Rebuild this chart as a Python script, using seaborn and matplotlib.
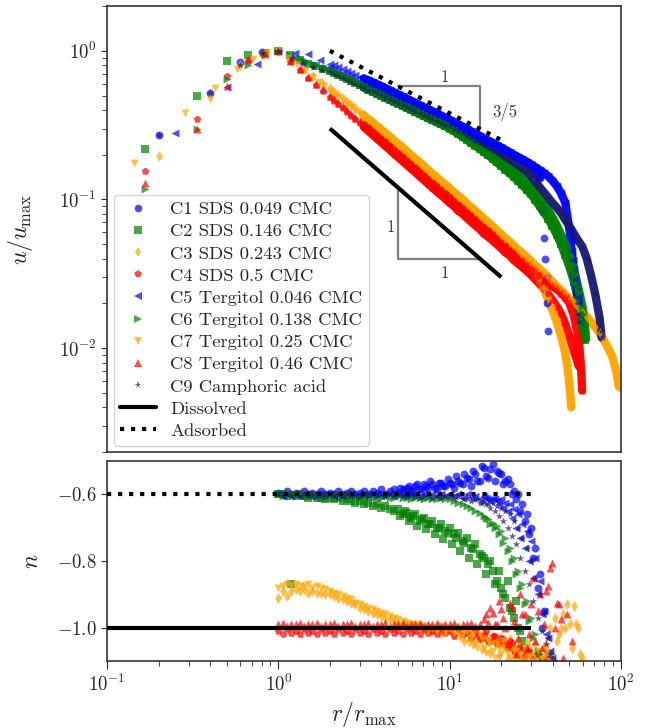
import matplotlib
matplotlib.use("Agg")
import matplotlib.pyplot as plt
from matplotlib.lines import Line2D
import numpy as np
import pandas as pd
import seaborn as sns

# ---------------------------------------------------------------------------
# Data
# ---------------------------------------------------------------------------
LABELS = ["C1 SDS 0.049 CMC", "C2 SDS 0.146 CMC", "C3 SDS 0.243 CMC",
          "C4 SDS 0.5 CMC", "C5 Tergitol 0.046 CMC", "C6 Tergitol 0.138 CMC",
          "C7 Tergitol 0.25 CMC", "C8 Tergitol 0.46 CMC", "C9 Camphoric acid"]
COLORS = ["blue", "green", "orange", "red", "blue", "green", "orange", "red",
          "midnightblue"]
MARKERS = ["o", "s", "d", "p", "<", ">", "v", "^", "*"]

# radial positions (r / r_max) of the sampled profile beyond r = 2
R_TOP = [2.00, 2.11, 2.24, 2.37, 2.51, 2.66, 2.82, 2.99, 3.16, 3.35, 3.55, 3.76,
         3.98, 4.22, 4.47, 4.73, 5.01, 5.31, 5.62, 5.96, 6.31, 6.68, 7.08, 7.50,
         7.94, 8.41, 8.91, 9.44, 10.0, 10.6, 11.2, 11.9, 12.6, 13.3, 14.1, 15.0,
         15.8, 16.8, 17.8, 18.8, 20.0, 21.1, 22.4, 23.7, 25.1, 26.6, 28.2, 29.9,
         31.6, 33.5, 35.5, 37.6, 39.8, 42.2, 44.7, 47.3, 50.1, 53.1, 56.2, 59.6,
         63.1, 66.8, 70.8, 75.0, 79.4, 84.1, 89.1, 94.4]

# inner part of each profile (r < 2)
HEAD_R = {
    "C1": [0.2, 0.4, 0.6, 0.8, 1.0, 1.2, 1.4, 1.6, 1.8],
    "C2": [0.167, 0.333, 0.5, 0.667, 0.833, 1.0, 1.167, 1.333, 1.5, 1.667, 1.833],
    "C3": [0.2, 0.4, 0.6, 0.8, 1.0, 1.2, 1.4, 1.6, 1.8],
    "C4": [0.167, 0.333, 0.5, 0.667, 0.833, 1.0, 1.167, 1.333, 1.5, 1.667, 1.833],
    "C5": [0.25, 0.5, 0.75, 1.0, 1.25, 1.5, 1.75],
    "C6": [0.167, 0.333, 0.5, 0.667, 0.833, 1.0, 1.167, 1.333, 1.5, 1.667, 1.833],
    "C7": [0.143, 0.286, 0.429, 0.571, 0.714, 0.857, 1.0, 1.143, 1.286, 1.429,
           1.571, 1.714, 1.857],
    "C8": [0.167, 0.333, 0.5, 0.667, 0.833, 1.0, 1.167, 1.333, 1.5, 1.667, 1.833],
    "C9": [0.2, 0.4, 0.6, 0.8, 1.0, 1.2, 1.4, 1.6, 1.8],
}
HEAD_U = {
    "C1": [0.27, 0.52, 0.84, 0.98, 1.0, 0.89, 0.84, 0.80, 0.77],
    "C2": [0.22, 0.50, 0.85, 0.93, 0.97, 1.0, 0.93, 0.87, 0.82, 0.79, 0.76],
    "C3": [0.195, 0.49, 0.80, 0.93, 1.0, 0.86, 0.76, 0.68, 0.61],
    "C4": [0.156, 0.345, 0.675, 0.86, 0.96, 1.0, 0.85, 0.74, 0.66, 0.59, 0.54],
    "C5": [0.28, 0.57, 0.81, 1.0, 0.96, 0.95, 0.87],
    "C6": [0.118, 0.30, 0.65, 0.80, 0.95, 1.0, 0.94, 0.89, 0.84, 0.80, 0.77],
    "C7": [0.175, 0.38, 0.56, 0.76, 0.88, 0.97, 1.0, 0.89, 0.80, 0.73, 0.67,
           0.62, 0.58],
    "C8": [0.13, 0.30, 0.58, 0.88, 0.95, 1.0, 0.86, 0.75, 0.67, 0.60, 0.55],
    "C9": [0.27, 0.52, 0.80, 0.97, 1.0, 0.89, 0.83, 0.78, 0.74],
}

# u / u_max on R_TOP
U_C1 = [0.750, 0.728, 0.706, 0.684, 0.664, 0.644, 0.625, 0.606, 0.588, 0.570,
        0.553, 0.537, 0.520, 0.505, 0.490, 0.475, 0.461, 0.447, 0.434, 0.421,
        0.408, 0.396, 0.384, 0.372, 0.361, 0.350, 0.340, 0.330, 0.320, 0.310,
        0.300, 0.291, 0.282, 0.273, 0.265, 0.256, 0.248, 0.241, 0.233, 0.226,
        0.219, 0.212, 0.204, 0.197, 0.191, 0.184, 0.178, 0.170, 0.160, 0.140]
U_C2 = [0.730, 0.707, 0.685, 0.664, 0.643, 0.623, 0.604, 0.585, 0.567, 0.549,
        0.532, 0.515, 0.499, 0.484, 0.469, 0.454, 0.440, 0.426, 0.413, 0.400,
        0.387, 0.375, 0.363, 0.352, 0.341, 0.330, 0.320, 0.310, 0.300, 0.288,
        0.276, 0.264, 0.252, 0.241, 0.230, 0.219, 0.209, 0.198, 0.188, 0.178,
        0.168, 0.159, 0.150, 0.142, 0.133, 0.125, 0.116, 0.108, 0.099, 0.090,
        0.082, 0.074, 0.066, 0.058, 0.050, 0.042, 0.035, 0.028, 0.021]
U_C3 = [0.560, 0.532, 0.505, 0.479, 0.455, 0.432, 0.410, 0.389, 0.368, 0.348,
        0.330, 0.312, 0.296, 0.280, 0.265, 0.250, 0.237, 0.224, 0.211, 0.199,
        0.188, 0.178, 0.168, 0.158, 0.149, 0.141, 0.133, 0.126, 0.119, 0.112,
        0.106, 0.100, 0.094, 0.089, 0.084, 0.079, 0.0745, 0.070, 0.066, 0.062,
        0.0585, 0.055, 0.052, 0.049, 0.046, 0.0435, 0.041, 0.0385, 0.036, 0.034,
        0.032, 0.030, 0.028, 0.026, 0.0245, 0.023, 0.0215, 0.020, 0.0188, 0.0176,
        0.0163, 0.015, 0.0138, 0.0126, 0.0113, 0.0100, 0.0087, 0.0068]
U_C4 = [0.490, 0.462, 0.436, 0.411, 0.388, 0.366, 0.345, 0.325, 0.307, 0.289,
        0.273, 0.257, 0.243, 0.229, 0.216, 0.203, 0.192, 0.181, 0.171, 0.161,
        0.152, 0.143, 0.135, 0.127, 0.120, 0.113, 0.107, 0.101, 0.095, 0.090,
        0.084, 0.080, 0.075, 0.071, 0.067, 0.063, 0.059, 0.056, 0.053, 0.050,
        0.047, 0.044, 0.042, 0.039, 0.037, 0.035, 0.033, 0.031, 0.029, 0.027,
        0.025, 0.023, 0.021, 0.019, 0.017, 0.0145, 0.012, 0.0095]
U_C5 = [0.820, 0.797, 0.774, 0.752, 0.731, 0.710, 0.690, 0.670, 0.651, 0.633,
        0.615, 0.597, 0.580, 0.561, 0.543, 0.526, 0.509, 0.493, 0.477, 0.461,
        0.447, 0.432, 0.418, 0.405, 0.392, 0.379, 0.367, 0.355, 0.344, 0.332,
        0.320, 0.309, 0.298, 0.288, 0.278, 0.268, 0.258, 0.249, 0.241, 0.232,
        0.224, 0.216, 0.208, 0.200, 0.193, 0.186, 0.179, 0.172, 0.165, 0.158,
        0.151, 0.143, 0.134, 0.123, 0.110, 0.095, 0.062]
U_C6 = [0.740, 0.717, 0.695, 0.673, 0.652, 0.631, 0.612, 0.593, 0.574, 0.556,
        0.539, 0.522, 0.506, 0.490, 0.475, 0.460, 0.446, 0.432, 0.418, 0.405,
        0.393, 0.380, 0.369, 0.357, 0.346, 0.335, 0.325, 0.315, 0.305, 0.293,
        0.281, 0.269, 0.258, 0.248, 0.238, 0.228, 0.219, 0.210, 0.201, 0.193,
        0.185, 0.177, 0.168, 0.160, 0.151, 0.142, 0.133, 0.124, 0.114, 0.104,
        0.094, 0.085, 0.076, 0.067, 0.058, 0.050, 0.042, 0.034, 0.026, 0.019]
U_C7 = [0.540, 0.513, 0.487, 0.462, 0.439, 0.417, 0.395, 0.374, 0.355, 0.336,
        0.318, 0.301, 0.285, 0.270, 0.255, 0.241, 0.228, 0.215, 0.203, 0.192,
        0.181, 0.171, 0.161, 0.152, 0.144, 0.136, 0.128, 0.121, 0.114, 0.108,
        0.102, 0.096, 0.091, 0.086, 0.081, 0.076, 0.072, 0.068, 0.064, 0.060,
        0.056, 0.053, 0.050, 0.047, 0.044, 0.041, 0.038, 0.035, 0.032, 0.029,
        0.025, 0.021, 0.018, 0.015, 0.012, 0.0092]
U_C8 = [0.500, 0.472, 0.446, 0.422, 0.398, 0.376, 0.355, 0.336, 0.317, 0.300,
        0.283, 0.267, 0.253, 0.239, 0.225, 0.213, 0.201, 0.190, 0.180, 0.170,
        0.160, 0.151, 0.143, 0.135, 0.128, 0.121, 0.114, 0.108, 0.102, 0.096,
        0.091, 0.086, 0.081, 0.077, 0.072, 0.068, 0.065, 0.061, 0.058, 0.055,
        0.052, 0.049, 0.046, 0.044, 0.041, 0.039, 0.037, 0.035, 0.033, 0.031,
        0.029, 0.0275, 0.026, 0.025, 0.0235, 0.022, 0.020, 0.0165, 0.012]
U_C9 = [0.720, 0.699, 0.678, 0.658, 0.638, 0.619, 0.601, 0.583, 0.566, 0.549,
        0.533, 0.517, 0.502, 0.487, 0.472, 0.458, 0.445, 0.431, 0.419, 0.406,
        0.394, 0.382, 0.371, 0.360, 0.349, 0.339, 0.329, 0.319, 0.310, 0.299,
        0.288, 0.278, 0.268, 0.259, 0.249, 0.240, 0.232, 0.224, 0.216, 0.208,
        0.200, 0.192, 0.184, 0.176, 0.169, 0.162, 0.155, 0.143, 0.132, 0.121,
        0.112, 0.103, 0.095, 0.088, 0.081, 0.073, 0.066, 0.059, 0.053, 0.048,
        0.040, 0.031, 0.023, 0.016]
U_MAIN = {"C1": U_C1, "C2": U_C2, "C3": U_C3, "C4": U_C4, "C5": U_C5,
          "C6": U_C6, "C7": U_C7, "C8": U_C8, "C9": U_C9}

# outer end of each profile, where the decay steepens
TAIL_R = {
    "C1": [34.5, 35.5, 36.2, 36.8, 37.2, 37.6],
    "C2": [57.2, 58.3, 59.4, 60.5, 61.6],
    "C3": [95.2, 96.0, 96.6, 97.0],
    "C4": [54.0, 55.0, 55.8, 56.5],
    "C5": [50.8, 51.5, 52.3, 53.0, 54.0, 55.0, 55.8, 56.5, 57.0, 57.5],
    "C6": [60.4, 61.2, 62.0, 62.6],
    "C7": [48.0, 48.7, 49.3, 49.9, 50.4, 50.8, 51.2],
    "C8": [57.0, 57.6, 58.1, 58.6, 59.0, 59.3],
    "C9": [75.8, 76.5, 77.0],
}
TAIL_U = {
    "C1": [0.085, 0.055, 0.040, 0.030, 0.020, 0.013],
    "C2": [0.018, 0.016, 0.014, 0.0125, 0.0114],
    "C3": [0.0063, 0.0060, 0.0057, 0.0055],
    "C4": [0.0090, 0.0085, 0.0080, 0.0076],
    "C5": [0.053, 0.045, 0.039, 0.034, 0.029, 0.026, 0.022, 0.020, 0.017, 0.015],
    "C6": [0.017, 0.015, 0.013, 0.0115],
    "C7": [0.0083, 0.0074, 0.0066, 0.0058, 0.0051, 0.0045, 0.0040],
    "C8": [0.0105, 0.0093, 0.0081, 0.0070, 0.0060, 0.0052],
    "C9": [0.0143, 0.0130, 0.0118],
}

# local exponent n = dlog u / dlog r
R_BOT = [1.00, 1.06, 1.12, 1.19, 1.26, 1.33, 1.41, 1.50, 1.58, 1.68, 1.78, 1.88,
         2.00, 2.11, 2.24, 2.37, 2.51, 2.66, 2.82, 2.99, 3.16, 3.35, 3.55, 3.76,
         3.98, 4.22, 4.47, 4.73, 5.01, 5.31, 5.62, 5.96, 6.31, 6.68, 7.08, 7.50,
         7.94, 8.41, 8.91, 9.44, 10.0, 10.6, 11.2, 11.9, 12.6, 13.3, 14.1, 15.0,
         15.8, 16.8, 17.8, 18.8, 20.0, 21.1, 22.4, 23.7, 25.1, 26.6, 28.2, 29.9,
         31.6, 33.5, 35.5, 37.6, 39.8, 42.2, 44.7, 47.3, 50.1, 53.1, 56.2, 59.6]

N_C1 = [-0.595, -0.600, -0.590, -0.600, -0.595, -0.600, -0.590, -0.600, -0.595, -0.600, -0.590, -0.600,
        -0.595, -0.600, -0.590, -0.600, -0.595, -0.590, -0.600, -0.595, -0.590, -0.600, -0.590, -0.595,
        -0.585, -0.600, -0.590, -0.585,
        -0.595, -0.585, -0.580, -0.590, -0.575, -0.585, -0.570, -0.580, -0.570, -0.585, -0.565, -0.575,
        -0.565, -0.580, -0.560, -0.570, -0.550, -0.575, -0.540, -0.560, -0.520, -0.550, -0.510, -0.530,
        -0.540, -0.560, -0.570, -0.590, -0.600, -0.630, -0.660, -0.700, -0.760, -0.840, -0.950, -1.080]
N_C2 = [-0.600, -0.600, -0.605, -0.870, -0.605, -0.600, -0.605, -0.610, -0.605, -0.610, -0.610, -0.615,
        -0.610, -0.615, -0.610, -0.620, -0.615, -0.620, -0.625, -0.620, -0.630, -0.625, -0.635, -0.630,
        -0.640, -0.635, -0.645, -0.650,
        -0.645, -0.660, -0.655, -0.670, -0.660, -0.680, -0.670, -0.690, -0.680, -0.700, -0.690, -0.710,
        -0.700, -0.720, -0.715, -0.740, -0.730, -0.760, -0.750, -0.780, -0.790, -0.810, -0.830, -0.860,
        -0.880, -0.910, -0.940, -0.970, -1.000, -1.040, -1.080]
N_C3 = [-0.910, -0.890, -0.905, -0.890, -0.885, -0.890, -0.885, -0.895, -0.890, -0.895, -0.895, -0.900,
        -0.900, -0.905, -0.910, -0.915, -0.920, -0.925, -0.930, -0.940, -0.945, -0.950, -0.955, -0.960,
        -0.965, -0.970, -0.975, -0.980,
        -0.985, -0.990, -0.990, -0.995, -1.000, -0.995, -1.005, -1.000, -1.010, -1.000, -1.015, -1.005,
        -1.010, -1.020, -1.005, -1.025, -1.010, -1.030, -1.015, -1.035, -1.020, -1.040, -1.025, -1.045,
        -1.030, -1.050, -1.035, -1.060, -1.040, -1.070, -1.045, -1.080, -1.050, -1.090, -1.060, -1.070,
        -1.080, -1.040, -1.000, -1.000, -0.990, -0.935, -1.000, -1.090]
N_C4 = [-1.010, -1.020, -1.005, -1.015, -1.010, -1.020, -1.005, -1.015, -1.010, -1.020, -1.005, -1.015,
        -1.010, -1.020, -1.005, -1.015, -1.010, -1.020, -1.005, -1.015, -1.010, -1.020, -1.005, -1.015,
        -1.010, -1.020, -1.005, -1.015,
        -1.010, -1.020, -1.005, -1.015, -1.010, -1.020, -1.005, -1.015, -1.010, -1.020, -1.005, -1.015,
        -1.010, -1.025, -1.005, -1.020, -1.015, -1.030, -1.010, -1.035, -1.020, -1.040, -1.025, -1.045,
        -1.030, -1.050, -1.040, -1.070, -1.060, -1.090, -1.080, -1.110, -1.120]
N_C5 = [-0.600, -0.605, -0.600, -0.605, -0.600, -0.605, -0.600, -0.600, -0.605, -0.600, -0.605, -0.600,
        -0.600, -0.605, -0.600, -0.605, -0.600, -0.600, -0.605, -0.600, -0.605, -0.600, -0.605, -0.600,
        -0.605, -0.600, -0.600, -0.605,
        -0.600, -0.605, -0.600, -0.605, -0.600, -0.605, -0.600, -0.605, -0.600, -0.605, -0.600, -0.605,
        -0.600, -0.605, -0.600, -0.610, -0.600, -0.610, -0.605, -0.615, -0.605, -0.615, -0.610, -0.620,
        -0.615, -0.625, -0.630, -0.645, -0.660, -0.690, -0.710, -0.740, -0.790, -0.860, -0.950, -1.030,
        -1.090]
N_C6 = [-0.600, -0.605, -0.600, -0.600, -0.605, -0.600, -0.605, -0.600, -0.600, -0.605, -0.600, -0.605,
        -0.600, -0.605, -0.600, -0.605, -0.605, -0.600, -0.605, -0.610, -0.605, -0.605, -0.610, -0.605,
        -0.610, -0.605, -0.610, -0.610,
        -0.605, -0.610, -0.610, -0.615, -0.610, -0.610, -0.615, -0.610, -0.615, -0.615, -0.610, -0.615,
        -0.615, -0.620, -0.625, -0.630, -0.635, -0.640, -0.650, -0.655, -0.665, -0.675, -0.685, -0.695,
        -0.710, -0.730, -0.760, -0.790, -0.830, -0.870, -0.920, -0.970, -1.020, -1.080]
N_C7 = [-0.880, -0.875, -0.870, -0.875, -0.870, -0.875, -0.875, -0.870, -0.880, -0.875, -0.880, -0.885,
        -0.890, -0.895, -0.900, -0.905, -0.910, -0.915, -0.925, -0.930, -0.935, -0.940, -0.945, -0.950,
        -0.955, -0.960, -0.965, -0.970,
        -0.975, -0.980, -0.985, -0.990, -0.990, -0.995, -0.995, -1.010, -1.000, -1.010, -0.995, -1.015,
        -1.000, -1.015, -1.005, -1.020, -1.010, -1.030, -1.050, -1.020, -1.060, -1.040, -1.070, -1.050,
        -1.080, -1.060, -1.090, -1.070, -1.080, -1.100, -1.090, -1.120, -1.150]
N_C8 = [-0.990, -0.985, -0.995, -0.990, -0.990, -0.985, -0.995, -0.990, -0.990, -0.985, -0.995, -0.990,
        -0.990, -0.985, -0.995, -0.990, -0.990, -0.985, -0.995, -0.990, -0.990, -0.985, -0.995, -0.990,
        -0.990, -0.985, -0.995, -0.990,
        -0.990, -0.985, -0.995, -0.990, -0.990, -0.985, -0.995, -0.990, -0.990, -0.985, -0.995, -0.990,
        -0.990, -0.985, -0.995, -0.990, -0.990, -0.985, -0.995, -0.990,
        -0.975, -0.985, -0.955, -0.990, -0.945, -1.000, -0.925, -0.980, -1.030, -0.960, -1.060, -0.930,
        -1.040, -0.900, -0.990, -0.875, -0.805, -0.925, -0.975]
N_C9 = [-0.600, -0.605, -0.600, -0.605, -0.600, -0.605, -0.600, -0.605, -0.600, -0.605, -0.600, -0.605,
        -0.600, -0.605, -0.600, -0.605, -0.600, -0.605, -0.600, -0.605, -0.600, -0.605, -0.600, -0.605,
        -0.600, -0.605, -0.600, -0.605,
        -0.600, -0.605, -0.605, -0.600, -0.605, -0.610, -0.605, -0.600, -0.610, -0.605, -0.610, -0.605,
        -0.605, -0.610, -0.605, -0.615, -0.610, -0.620, -0.615, -0.625, -0.620, -0.630, -0.625, -0.635,
        -0.640, -0.650, -0.660, -0.680, -0.700, -0.730, -0.760, -0.800, -0.850, -0.900, -0.960, -1.030,
        -1.090]
N_ALL = {"C1": N_C1, "C2": N_C2, "C3": N_C3, "C4": N_C4, "C5": N_C5,
         "C6": N_C6, "C7": N_C7, "C8": N_C8, "C9": N_C9}

# interleaved samples (between the R_BOT positions) in the scattered outer range
R_MID = [5.16, 5.47, 5.79, 6.13, 6.49, 6.88, 7.29, 7.72, 8.18, 8.66, 9.17, 9.72,
         10.3, 10.9, 11.5, 12.2, 12.9, 13.7, 14.5, 15.4, 16.3, 17.3, 18.3, 19.4,
         20.5, 21.8, 23.1, 24.4, 25.9, 27.4, 29.0, 30.7, 32.6, 34.5, 36.5, 38.7,
         41.0, 43.4, 46.0, 48.7, 51.6, 54.6, 57.9]
MID_START = {"C1": 0, "C2": 0, "C3": 14, "C4": 18, "C5": 20, "C6": 20,
             "C7": 14, "C8": 20, "C9": 18}
NM_C1 = [-0.580, -0.595, -0.575, -0.590, -0.570, -0.585, -0.575, -0.560, -0.580, -0.565, -0.575, -0.555,
         -0.570, -0.545, -0.565, -0.540, -0.555, -0.530, -0.560, -0.515, -0.545, -0.525, -0.560, -0.535,
         -0.570, -0.555, -0.600, -0.615, -0.650, -0.680, -0.720, -0.790, -0.880, -1.000]
NM_C2 = [-0.665, -0.650, -0.680, -0.665, -0.695, -0.675, -0.705, -0.690, -0.720, -0.700, -0.735, -0.715,
         -0.750, -0.730, -0.770, -0.745, -0.790, -0.765, -0.810, -0.785, -0.840, -0.800, -0.870, -0.830,
         -0.900, -0.860, -0.950, -0.920, -1.010, -1.060]
NM_C3 = [-1.020, -1.040, -1.010, -1.050, -1.030, -1.065, -1.035, -1.075, -1.045, -1.085, -1.055, -1.095,
         -1.065, -1.100, -1.070, -1.090, -1.060, -1.085, -1.075, -1.095, -1.050, -1.000, -0.970, -1.020,
         -0.960, -0.930, -1.060, -0.990, -1.080]
NM_C4 = [-1.020, -1.030, -1.010, -1.040, -1.025, -1.050, -1.035, -1.060, -1.045, -1.075, -1.060, -1.085,
         -1.070, -1.095, -1.080, -1.100, -1.090, -1.100]
NM_C5 = [-0.610, -0.620, -0.615, -0.630, -0.640, -0.650, -0.670, -0.700, -0.730, -0.760, -0.800, -0.850,
         -0.900, -0.960, -1.020, -1.070]
NM_C6 = [-0.670, -0.690, -0.700, -0.720, -0.745, -0.770, -0.800, -0.840, -0.880, -0.930, -0.980, -1.030,
         -1.070, -1.100]
NM_C7 = [-1.030, -1.010, -1.045, -1.020, -1.060, -1.035, -1.075, -1.050, -1.090, -1.060, -1.040, -1.080,
         -1.100, -1.070, -1.095, -1.060, -1.085, -1.100, -1.070, -1.095, -1.080, -1.100]
NM_C8 = [-0.960, -0.940, -0.990, -0.920, -0.970, -1.050, -0.940, -1.080, -0.900, -0.960, -1.020, -0.850,
         -0.950, -1.060, -0.890, -0.820, -1.000, -0.930, -1.090, -0.960, -1.040]
NM_C9 = [-0.615, -0.625, -0.630, -0.640, -0.650, -0.665, -0.680, -0.700, -0.725, -0.750, -0.790, -0.830,
         -0.870, -0.920, -0.970, -1.010, -1.050, -1.080, -1.100]
N_MID = {"C1": NM_C1, "C2": NM_C2, "C3": NM_C3, "C4": NM_C4, "C5": NM_C5,
         "C6": NM_C6, "C7": NM_C7, "C8": NM_C8, "C9": NM_C9}

# reference power laws and slope triangles
ADS_R, ADS_U = [2.0, 20.0], [1.0, 0.251]      # u ~ r^(-3/5)
DIS_R, DIS_U = [2.0, 20.0], [0.30, 0.030]     # u ~ r^(-1)
TRI_ADS_R, TRI_ADS_U = [5.0, 15.0, 15.0], [0.577, 0.577, 0.298]
TRI_DIS_R, TRI_DIS_U = [5.0, 5.0, 15.0], [0.12, 0.04, 0.04]
N_LINE_R = [0.1, 30.0]
N_ADS, N_DIS = [-0.6, -0.6], [-1.0, -1.0]

# ---------------------------------------------------------------------------
# Style
# ---------------------------------------------------------------------------
sns.set_style("ticks")
plt.rcParams.update({
    "font.family": ["serif"],
    "font.serif": ["cmr10"],
    "mathtext.fontset": "cm",
    "axes.formatter.use_mathtext": True,
    "axes.unicode_minus": True,
    "axes.edgecolor": "0.2",
    "axes.linewidth": 1.2,
    "xtick.major.size": 5.5,
    "xtick.minor.size": 3.5,
    "ytick.major.size": 4.0,
    "ytick.minor.size": 3.5,
})

fig = plt.figure(figsize=(6.52, 7.28), dpi=100)
ax1 = fig.add_axes([0.1641, 0.3791, 0.7883, 0.6126])
ax2 = fig.add_axes([0.1641, 0.0920, 0.7883, 0.2747])

MS = 32
ALPHA = 0.7
BAND_FROM = 8          # densely sampled part of each profile starts at R_TOP[8]
TICK_FS = 13.5
LABEL_FS = 17

# ---------------------------------------------------------------------------
# Top: velocity profiles
# ---------------------------------------------------------------------------
for i, key in enumerate(U_MAIN):
    main_r = R_TOP[:len(U_MAIN[key])]
    r = list(HEAD_R[key]) + main_r + list(TAIL_R[key])
    u = list(HEAD_U[key]) + list(U_MAIN[key]) + list(TAIL_U[key])

    # the dense outer samples merge into a continuous band
    band_r = main_r[BAND_FROM:]
    band_u = list(U_MAIN[key])[BAND_FROM:]
    if key != "C1":          # C1 ends in a column of separated points
        band_r = band_r + list(TAIL_R[key])
        band_u = band_u + list(TAIL_U[key])
    sns.lineplot(x=band_r, y=band_u, ax=ax1, color=COLORS[i], lw=6.0,
                 alpha=0.95, sort=False, estimator=None, legend=False,
                 solid_capstyle="round", solid_joinstyle="round", zorder=1.5)

    df = pd.DataFrame({"r": r, "u": u})
    sns.scatterplot(data=df, x="r", y="u", ax=ax1, color=COLORS[i],
                    marker=MARKERS[i], s=MS, alpha=ALPHA, linewidth=0,
                    legend=False, zorder=2)

ax1.plot(DIS_R, DIS_U, color="black", lw=3, solid_capstyle="butt", zorder=4)
ax1.plot(ADS_R, ADS_U, color="black", lw=3, ls=":", zorder=4)
ax1.plot(TRI_ADS_R, TRI_ADS_U, color="gray", lw=1.6, zorder=3)
ax1.plot(TRI_DIS_R, TRI_DIS_U, color="gray", lw=1.6, zorder=3)
ax1.text(9.35, 0.665, "1", ha="center", va="center", fontsize=12, color="0.2")
ax1.text(21.0, 0.387, "3/5", ha="center", va="center", fontsize=12, color="0.2")
ax1.text(4.55, 0.065, "1", ha="center", va="center", fontsize=12, color="0.2")
ax1.text(9.35, 0.0318, "1", ha="center", va="center", fontsize=12, color="0.2")

ax1.set_xscale("log")
ax1.set_yscale("log")
ax1.set_xlim(0.1, 100)
ax1.set_ylim(0.002, 2.0)
ax1.tick_params(axis="x", which="both", bottom=False, labelbottom=False)
ax1.tick_params(axis="y", labelsize=TICK_FS)
ax1.set_xlabel("")
ax1.set_ylabel(r"$u/u_{\mathrm{max}}$", fontsize=LABEL_FS)
ax1.yaxis.set_label_coords(-0.14, 0.5)

handles = [Line2D([], [], ls="none", marker=MARKERS[i], color=COLORS[i],
                  alpha=ALPHA, markersize=5.5, markeredgewidth=0)
           for i in range(len(LABELS))]
handles += [Line2D([], [], color="black", lw=3),
            Line2D([], [], color="black", lw=3, ls=":")]
ax1.legend(handles, LABELS + ["Dissolved", "Adsorbed"], loc="lower left",
           fontsize=13.4, handlelength=1.95, handletextpad=0.75,
           labelspacing=0.33, borderpad=0.35, borderaxespad=0.35,
           frameon=True)

# ---------------------------------------------------------------------------
# Bottom: local exponent
# ---------------------------------------------------------------------------
for i, key in enumerate(N_ALL):
    start = MID_START[key]
    r = R_BOT[:len(N_ALL[key])] + R_MID[start:start + len(N_MID[key])]
    n = list(N_ALL[key]) + list(N_MID[key])
    df = pd.DataFrame({"r": r, "n": n})
    sns.scatterplot(data=df, x="r", y="n", ax=ax2, color=COLORS[i],
                    marker=MARKERS[i], s=MS, alpha=ALPHA, linewidth=0,
                    legend=False, zorder=2)

ax2.plot(N_LINE_R, N_DIS, color="black", lw=3, solid_capstyle="butt", zorder=4)
ax2.plot(N_LINE_R, N_ADS, color="black", lw=3, ls=":", zorder=4)

ax2.set_xscale("log")
ax2.set_xlim(0.1, 100)
ax2.set_ylim(-1.1, -0.5)
ax2.set_yticks([-1.0, -0.8, -0.6])
ax2.tick_params(labelsize=TICK_FS)
ax2.set_xlabel(r"$r/r_{\mathrm{max}}$", fontsize=LABEL_FS)
ax2.set_ylabel(r"$n$", fontsize=LABEL_FS)
ax2.yaxis.set_label_coords(-0.125, 0.5)

fig.savefig("out.png", dpi=100)
